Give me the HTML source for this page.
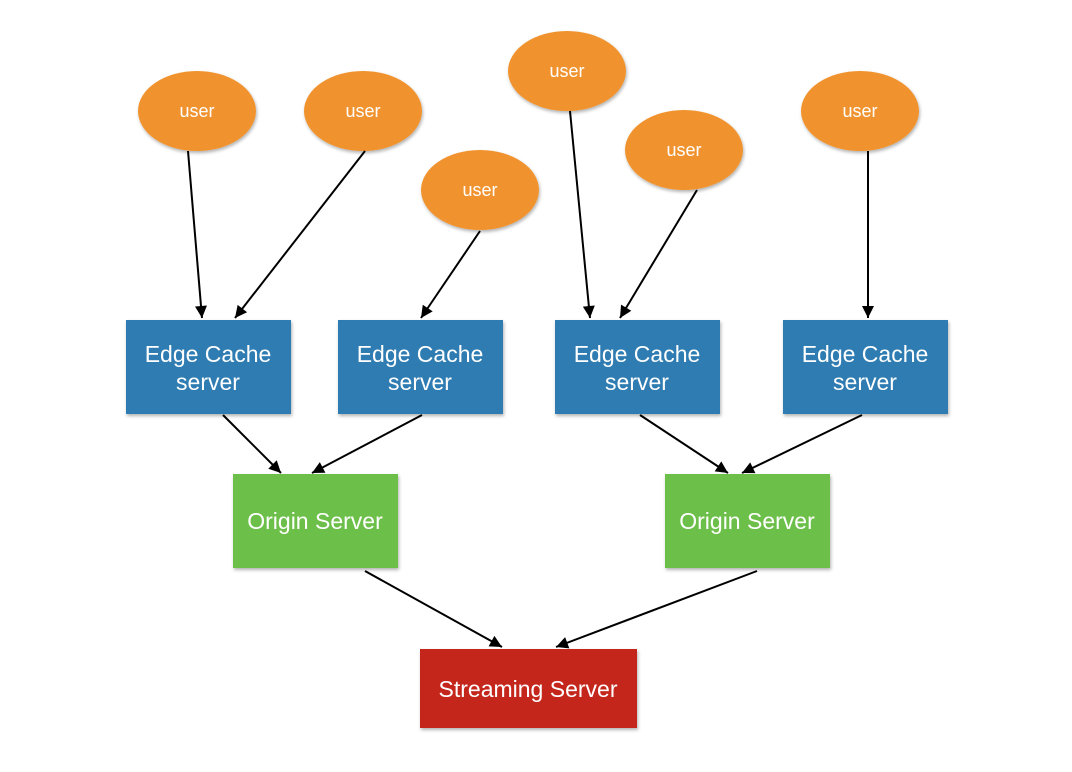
<!DOCTYPE html>
<html><head><meta charset="utf-8"><style>
html,body{margin:0;padding:0;background:#fff;}
svg{display:block;}
text{font-family:"Liberation Sans",sans-serif;fill:#fff;text-anchor:middle;}
</style></head><body>
<svg width="1072" height="772" viewBox="0 0 1072 772" xmlns="http://www.w3.org/2000/svg">
<defs>
<marker id="a" viewBox="0 0 10 10" refX="10" refY="5" markerWidth="7" markerHeight="6" markerUnits="strokeWidth" orient="auto">
<path d="M0,0 L10,5 L0,10 z" fill="#000"/></marker>
<filter id="s" x="-10%" y="-10%" width="130%" height="130%"><feDropShadow dx="1" dy="2" stdDeviation="1.5" flood-color="#000" flood-opacity="0.3"/></filter>
</defs>
<g filter="url(#s)">
<ellipse cx="197" cy="111" rx="59" ry="40" fill="#f0932e"/>
<ellipse cx="363" cy="111" rx="59" ry="40" fill="#f0932e"/>
<ellipse cx="480" cy="190" rx="59" ry="40" fill="#f0932e"/>
<ellipse cx="567" cy="71" rx="59" ry="40" fill="#f0932e"/>
<ellipse cx="684" cy="150" rx="59" ry="40" fill="#f0932e"/>
<ellipse cx="860" cy="111" rx="59" ry="40" fill="#f0932e"/>
<rect x="126" y="320" width="165" height="94" fill="#2f7cb1"/>
<rect x="338" y="320" width="165" height="94" fill="#2f7cb1"/>
<rect x="555" y="320" width="165" height="94" fill="#2f7cb1"/>
<rect x="783" y="320" width="165" height="94" fill="#2f7cb1"/>
<rect x="233" y="474" width="165" height="94" fill="#6cbf4a"/>
<rect x="665" y="474" width="165" height="94" fill="#6cbf4a"/>
<rect x="420" y="649" width="217" height="79" fill="#c4271c"/>
</g>
<g stroke="#000" stroke-width="2" marker-end="url(#a)">
<line x1="188" y1="151" x2="202" y2="318"/>
<line x1="365" y1="151" x2="235" y2="318"/>
<line x1="480" y1="231" x2="421" y2="318"/>
<line x1="570" y1="111" x2="590" y2="318"/>
<line x1="697" y1="190" x2="620" y2="318"/>
<line x1="868" y1="151" x2="868" y2="318"/>
<line x1="223" y1="415" x2="281" y2="473"/>
<line x1="422" y1="415" x2="312" y2="473"/>
<line x1="640" y1="415" x2="728" y2="473"/>
<line x1="862" y1="415" x2="742" y2="473"/>
<line x1="365" y1="571" x2="502" y2="647"/>
<line x1="757" y1="571" x2="556" y2="647"/>
</g>
<g font-size="18">
<text x="197" y="117">user</text>
<text x="363" y="117">user</text>
<text x="480" y="196">user</text>
<text x="567" y="77">user</text>
<text x="684" y="156">user</text>
<text x="860" y="117">user</text>
</g>
<g font-size="23">
<text x="208" y="362">Edge Cache</text><text x="208" y="390">server</text>
<text x="420" y="362">Edge Cache</text><text x="420" y="390">server</text>
<text x="637" y="362">Edge Cache</text><text x="637" y="390">server</text>
<text x="865" y="362">Edge Cache</text><text x="865" y="390">server</text>
<text x="315" y="529">Origin Server</text>
<text x="747" y="529">Origin Server</text>
<text x="528" y="697">Streaming Server</text>
</g>
</svg>
</body></html>
